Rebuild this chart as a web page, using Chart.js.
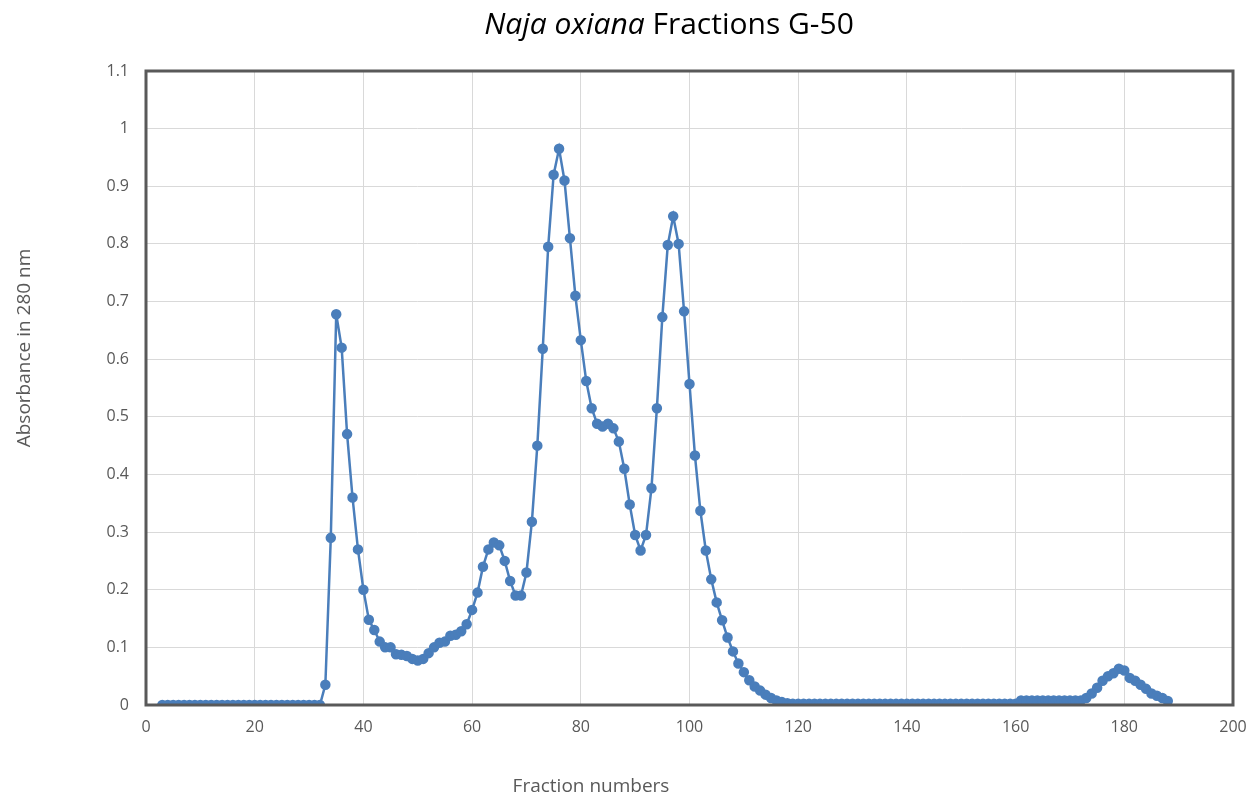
<!DOCTYPE html>
<html>
<head>
<meta charset="utf-8">
<script src="https://cdn.jsdelivr.net/npm/chart.js@4"></script>
<style>
  html, body { margin: 0; padding: 0; background: #fff; }
  #wrap { width: 1255px; height: 797px; }
</style>
</head>
<body>
<div id="wrap"><canvas id="fractionChart"></canvas></div>
<script>
// fraction numbers (x) and absorbance at 280 nm (y)
const fractions = [
  3, 4, 5, 6, 7, 8, 9, 10, 11, 12, 13, 14, 15, 16, 17, 18, 19, 20, 21, 22,
  23, 24, 25, 26, 27, 28, 29, 30, 31, 32, 33, 34, 35, 36, 37, 38, 39, 40, 41, 42,
  43, 44, 45, 46, 47, 48, 49, 50, 51, 52, 53, 54, 55, 56, 57, 58, 59, 60, 61, 62,
  63, 64, 65, 66, 67, 68, 69, 70, 71, 72, 73, 74, 75, 76, 77, 78, 79, 80, 81, 82,
  83, 84, 85, 86, 87, 88, 89, 90, 91, 92, 93, 94, 95, 96, 97, 98, 99, 100, 101, 102,
  103, 104, 105, 106, 107, 108, 109, 110, 111, 112, 113, 114, 115, 116, 117, 118, 119, 120, 121, 122,
  123, 124, 125, 126, 127, 128, 129, 130, 131, 132, 133, 134, 135, 136, 137, 138, 139, 140, 141, 142,
  143, 144, 145, 146, 147, 148, 149, 150, 151, 152, 153, 154, 155, 156, 157, 158, 159, 160, 161, 162,
  163, 164, 165, 166, 167, 168, 169, 170, 171, 172, 173, 174, 175, 176, 177, 178, 179, 180, 181, 182,
  183, 184, 185, 186, 187, 188
];
const absorbance = [
  0, 0, 0, 0, 0, 0, 0, 0, 0, 0, 0, 0, 0, 0, 0, 0, 0, 0, 0, 0,
  0, 0, 0, 0, 0, 0, 0, 0, 0, 0, 0.035, 0.29, 0.678, 0.62, 0.47, 0.36, 0.27, 0.2, 0.148, 0.13,
  0.11, 0.1, 0.1, 0.088, 0.087, 0.085, 0.08, 0.077, 0.08, 0.09, 0.1, 0.108, 0.11, 0.12, 0.122, 0.128, 0.14, 0.165, 0.195, 0.24,
  0.27, 0.282, 0.277, 0.25, 0.215, 0.19, 0.19, 0.23, 0.318, 0.45, 0.618, 0.795, 0.92, 0.965, 0.91, 0.81, 0.71, 0.633, 0.562, 0.515,
  0.488, 0.483, 0.488, 0.48, 0.457, 0.41, 0.348, 0.295, 0.268, 0.295, 0.376, 0.515, 0.673, 0.798, 0.848, 0.8, 0.683, 0.557, 0.433, 0.337,
  0.268, 0.218, 0.178, 0.147, 0.117, 0.093, 0.072, 0.057, 0.043, 0.032, 0.025, 0.018, 0.012, 0.008, 0.005, 0.003, 0.002, 0.002, 0.002, 0.002,
  0.002, 0.002, 0.002, 0.002, 0.002, 0.002, 0.002, 0.002, 0.002, 0.002, 0.002, 0.002, 0.002, 0.002, 0.002, 0.002, 0.002, 0.002, 0.002, 0.002,
  0.002, 0.002, 0.002, 0.002, 0.002, 0.002, 0.002, 0.002, 0.002, 0.002, 0.002, 0.002, 0.002, 0.002, 0.002, 0.002, 0.002, 0.002, 0.008, 0.008,
  0.008, 0.008, 0.008, 0.008, 0.008, 0.008, 0.008, 0.008, 0.008, 0.008, 0.012, 0.02, 0.03, 0.042, 0.05, 0.055, 0.063, 0.06, 0.047, 0.042,
  0.035, 0.028, 0.02, 0.016, 0.012, 0.007
];

const titleItalic = 'Naja oxiana';
const titleRest = ' Fractions G-50';
const xTitle = 'Fraction numbers';
const yTitle = 'Absorbance in 280 nm';

const FONT = '"Open Sans", "Noto Sans", sans-serif';

// titles + the dark frame round the plot, drawn the way Excel placed them
const excelBits = {
    id: 'excelBits',
    afterDraw(chart) {
        const ctx = chart.ctx;
        const area = chart.chartArea;
        ctx.save();

        ctx.strokeStyle = '#595959';
        ctx.lineWidth = 3;
        ctx.strokeRect(area.left, area.top, area.right - area.left, area.bottom - area.top);

        ctx.fillStyle = '#000';
        ctx.textBaseline = 'alphabetic';
        const italicFont = 'italic 30px ' + FONT;
        const plainFont = '30px ' + FONT;
        ctx.font = italicFont;
        const w1 = ctx.measureText(titleItalic).width;
        ctx.font = plainFont;
        const w2 = ctx.measureText(titleRest).width;
        let tx = 669 - (w1 + w2) / 2;
        ctx.font = italicFont;
        ctx.textAlign = 'left';
        ctx.fillText(titleItalic, tx, 34);
        ctx.font = plainFont;
        ctx.fillText(titleRest, tx + w1, 34);

        ctx.fillStyle = '#595959';
        ctx.font = '19px ' + FONT;
        ctx.textAlign = 'center';
        ctx.fillText(xTitle, 591, 792);

        ctx.translate(30, 348);
        ctx.rotate(-Math.PI / 2);
        ctx.fillText(yTitle, 0, 0);
        ctx.restore();
    }
};

const ctx = document.getElementById('fractionChart').getContext('2d');
new Chart(ctx, {
    type: 'scatter',
    data: {
        datasets: [{
            label: 'Absorbance',
            data: fractions.map((f, i) => ({ x: f, y: absorbance[i] })),
            showLine: true,
            borderColor: '#4a7ebb',
            backgroundColor: '#4a7ebb',
            borderWidth: 2.5,
            pointRadius: 4,
            pointHoverRadius: 4,
            tension: 0
        }]
    },
    options: {
        responsive: true,
        maintainAspectRatio: false,
        animation: false,
        layout: { padding: { top: 71, right: 22, left: 0, bottom: 0 } },
        plugins: {
            legend: { display: false },
            title: { display: false },
            tooltip: { enabled: false }
        },
        scales: {
            x: {
                type: 'linear',
                min: 0,
                max: 200,
                afterFit: s => { s.height = 92; s.paddingLeft = 0; s.paddingRight = 0; },
                ticks: {
                    stepSize: 20,
                    color: '#595959',
                    font: { family: FONT, size: 16 },
                    padding: 13,
                    maxRotation: 0
                },
                grid: { color: '#d9d9d9', lineWidth: 1, drawTicks: false },
                border: { display: false }
            },
            y: {
                min: 0,
                max: 1.1,
                afterFit: s => { s.width = 146; s.paddingTop = 0; s.paddingBottom = 0; },
                ticks: {
                    stepSize: 0.1,
                    color: '#595959',
                    font: { family: FONT, size: 16 },
                    padding: 17,
                    callback: v => Math.round(v * 10) / 10
                },
                grid: { color: '#d9d9d9', lineWidth: 1, drawTicks: false },
                border: { display: false }
            }
        }
    },
    plugins: [excelBits]
});
</script>
</body>
</html>
